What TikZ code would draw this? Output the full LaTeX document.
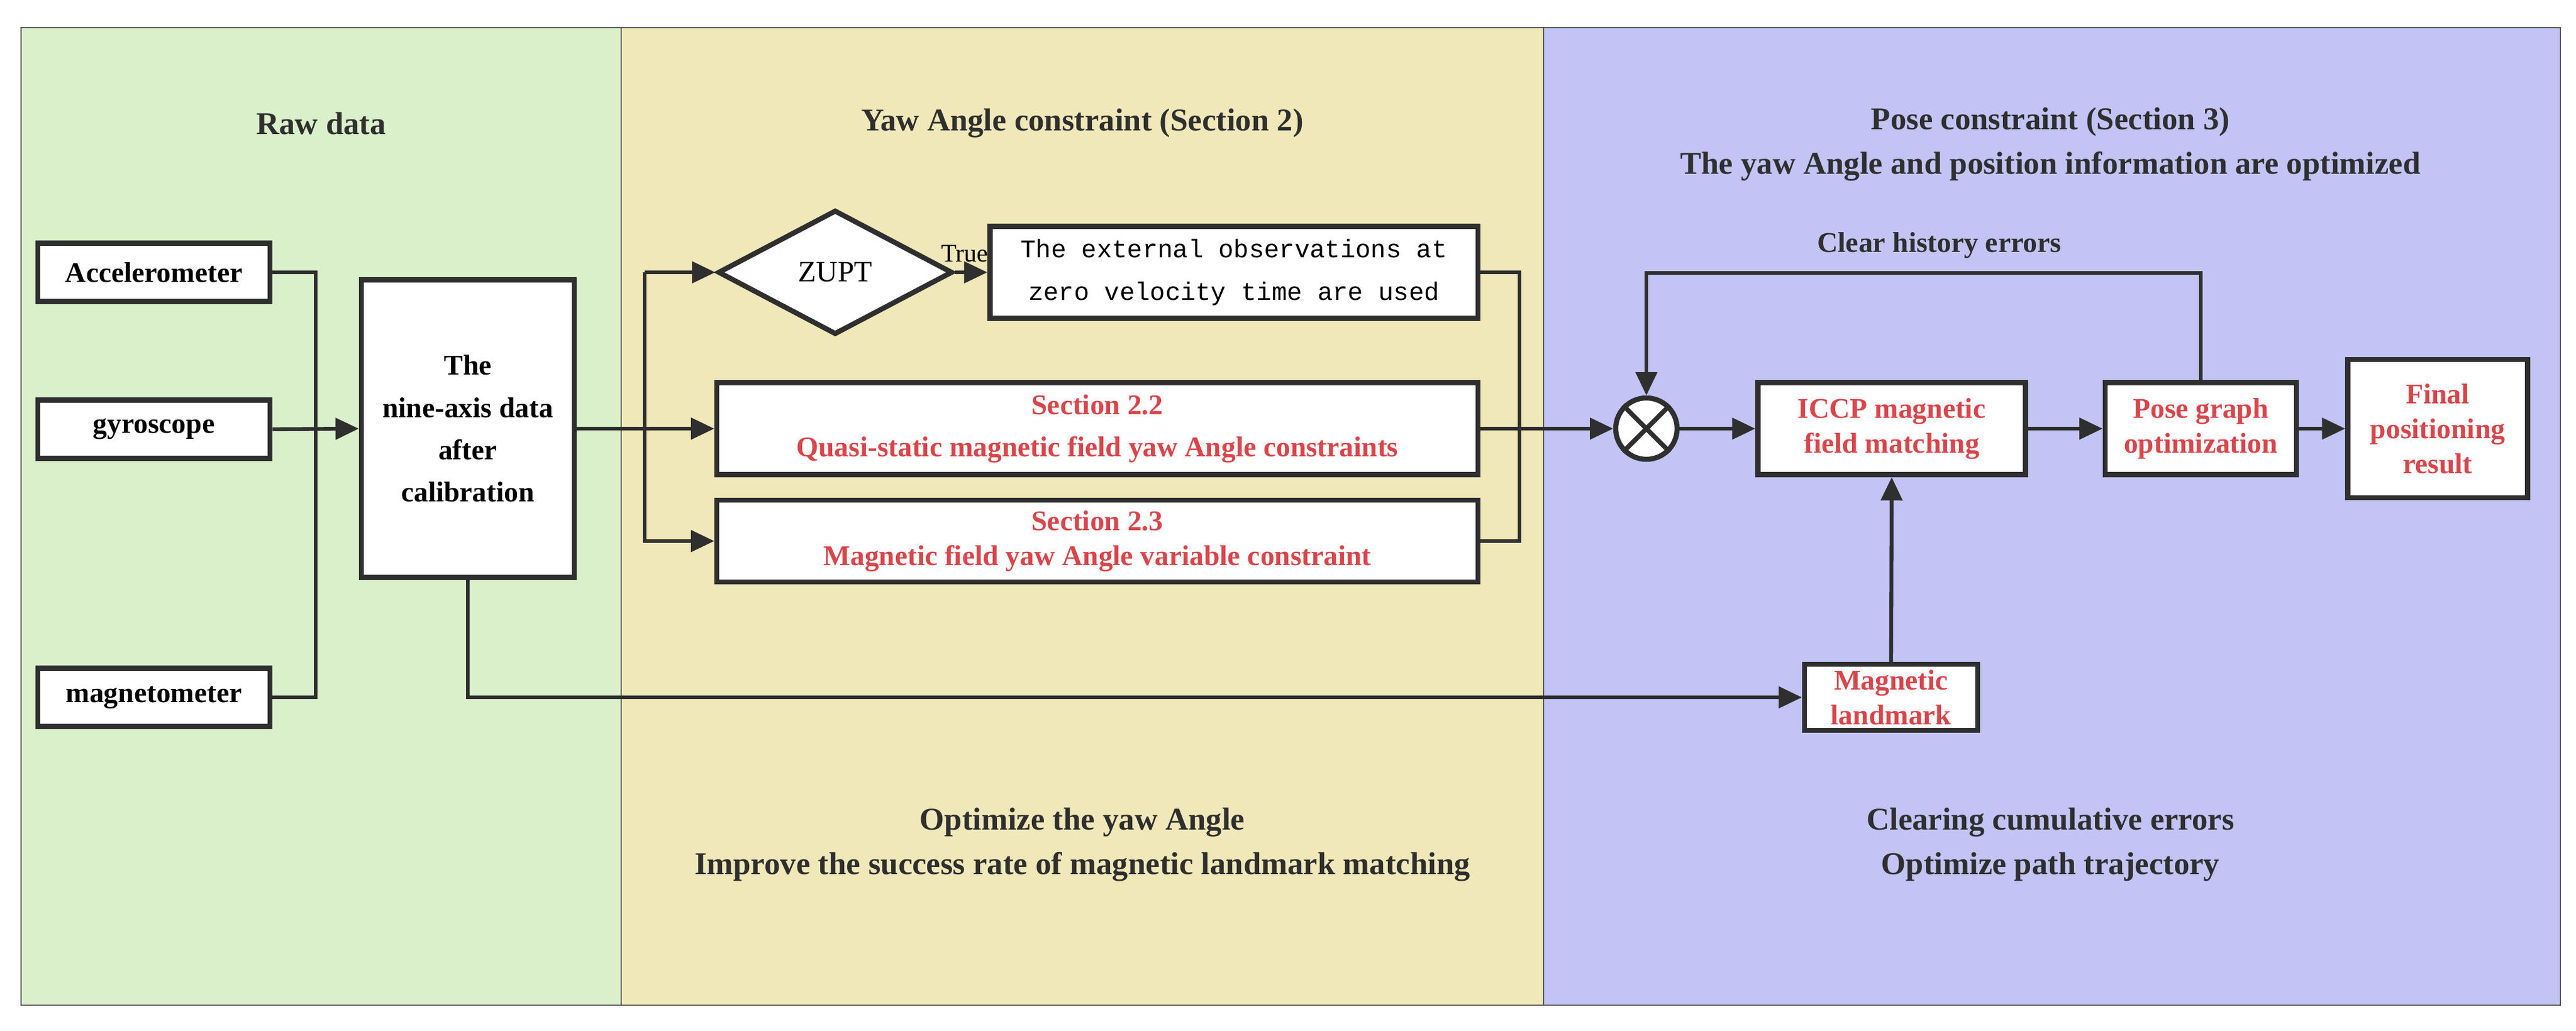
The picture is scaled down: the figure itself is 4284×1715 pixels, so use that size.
\documentclass[tikz,border=0pt]{standalone}
\usepackage{fontspec}
\setmainfont{Liberation Serif}
\newfontfamily\monof{Liberation Mono}
\usetikzlibrary{shapes.geometric,arrows.meta}
\definecolor{gpanel}{HTML}{D9F0CA}
\definecolor{ypanel}{HTML}{F1E8B9}
\definecolor{bpanel}{HTML}{C1C4F4}
\definecolor{redt}{HTML}{D9454A}
\definecolor{ln}{HTML}{2F2F2F}
\begin{document}
\begin{tikzpicture}[x=0.01cm,y=-0.01cm,
  box/.style={draw=ln,line width=2.4pt,fill=white,inner sep=0pt,align=center,font=\fontsize{13.5}{16.5}\selectfont\bfseries},
  rbox/.style={box,text=redt},
  conn/.style={draw=ln,line width=1.8pt},
  arr/.style={conn,-{Triangle[length=11pt,width=10pt]}},
  ttl/.style={font=\fontsize{15}{21}\selectfont\bfseries,text=ln,align=center}]
\useasboundingbox (0,0) rectangle (4284,1715);
\fill[white] (0,0) rectangle (4284,1715);
\draw[gray!70!black,line width=0.8pt,fill=gpanel] (35,46) rectangle (1033,1672);
\draw[gray!70!black,line width=0.8pt,fill=ypanel] (1033,46) rectangle (2567,1672);
\draw[gray!70!black,line width=0.8pt,fill=bpanel] (2567,46) rectangle (4258,1672);
% titles
\node[ttl] (t1) at (534,205) {Raw data};
\node[ttl] (t2) at (1800,205) {Yaw Angle constraint (Section 2)};
\node[ttl] (t3) at (3410,240) {Pose constraint (Section 3)\\The yaw Angle and position information are optimized};
\node[ttl] (b2) at (1800,1405) {Optimize the yaw Angle\\Improve the success rate of magnetic landmark matching};
\node[ttl] (b3) at (3410,1405) {Clearing cumulative errors\\Optimize path trajectory};
% left column
\node[box,minimum width=3.86cm,minimum height=0.97cm] (acc) at (256,453) {Accelerometer};
\node[box,minimum width=3.86cm,minimum height=0.97cm] (gyr) at (256,714) {gyroscope};
\node[box,minimum width=3.86cm,minimum height=0.97cm] (mag) at (256,1160) {magnetometer};
\node[box,minimum width=3.54cm,minimum height=4.95cm,font=\fontsize{13.5}{20}\selectfont\bfseries] (nine) at (778,713) {The\\nine-axis data\\after\\calibration};
% middle
\node[box,diamond,aspect=1.9,minimum width=3.9cm,minimum height=2.07cm,font=\fontsize{14}{16}\selectfont] (zupt) at (1389,453) {ZUPT};
\node[box,minimum width=8.11cm,minimum height=1.53cm,font=\fontsize{12}{20}\selectfont\monof] (ext) at (2052,453) {The external observations at\\zero velocity time are used};
\node[rbox,minimum width=12.65cm,minimum height=1.53cm,font=\fontsize{13.5}{20}\selectfont\bfseries] (s22) at (1825,713) {Section 2.2\\Quasi-static magnetic field yaw Angle constraints};
\node[rbox,minimum width=12.65cm,minimum height=1.36cm] (s23) at (1825,900) {Section 2.3\\Magnetic field yaw Angle variable constraint};
% right
\node[draw=ln,line width=2.4pt,fill=white,circle,minimum size=1.02cm,inner sep=0pt] (cx) at (2738,713) {};
\draw[ln,line width=2.2pt] (cx.north west) -- (cx.south east) (cx.north east) -- (cx.south west);
\node[rbox,minimum width=4.45cm,minimum height=1.53cm] (iccp) at (3146,713) {ICCP magnetic\\field matching};
\node[rbox,minimum width=3.18cm,minimum height=1.53cm] (pose) at (3660,713) {Pose graph\\optimization};
\node[rbox,minimum width=2.99cm,minimum height=2.3cm] (fin) at (4054,713) {Final\\positioning\\result};
\node[rbox,minimum width=2.88cm,minimum height=1.1cm] (lm) at (3145,1160) {Magnetic\\landmark};
\node[ttl,font=\fontsize{13.5}{16}\selectfont\bfseries] (clr) at (3225,408) {Clear history errors};
% connectors
\coordinate (bl) at (525,453);
\coordinate (bl2) at (525,1160);
\draw[conn] (acc.east) -- (bl) -- (bl2) -- (mag.east);
\draw[arr] (gyr.east) -- (nine.west);
\coordinate (m1) at (1072,453);
\coordinate (m2) at (1072,900);
\draw[arr] (nine.east) -- (s22.west);
\draw[arr] (m1) -- (zupt.west);
\draw[arr] (m1 |- nine.east) -- (m2) -- (s23.west);
\draw[conn] (m1) -- (m1 |- nine.east);
\draw[arr] (zupt.east) -- node[above,pos=0.3,font=\fontsize{12}{14}\selectfont,inner sep=4pt]{True} (ext.west);
\coordinate (r1) at (2527,453);
\coordinate (r2) at (2527,900);
\draw[conn] (ext.east) -- (r1) -- (r2) -- (s23.east);
\draw[arr] (s22.east) -- (cx.west);
\draw[arr] (cx.east) -- (iccp.west);
\draw[arr] (iccp.east) -- (pose.west);
\draw[arr] (pose.east) -- (fin.west);
\coordinate (f1) at (3660,454);
\coordinate (f2) at (2738,454);
\draw[arr] (pose.north) -- (f1) -- (f2) -- (cx.north);
\draw[arr] (lm.north) -- (iccp.south);
\coordinate (n1) at (778,1160);
\draw[arr] (nine.south) -- (n1) -- (lm.west);
\end{tikzpicture}
\end{document}
